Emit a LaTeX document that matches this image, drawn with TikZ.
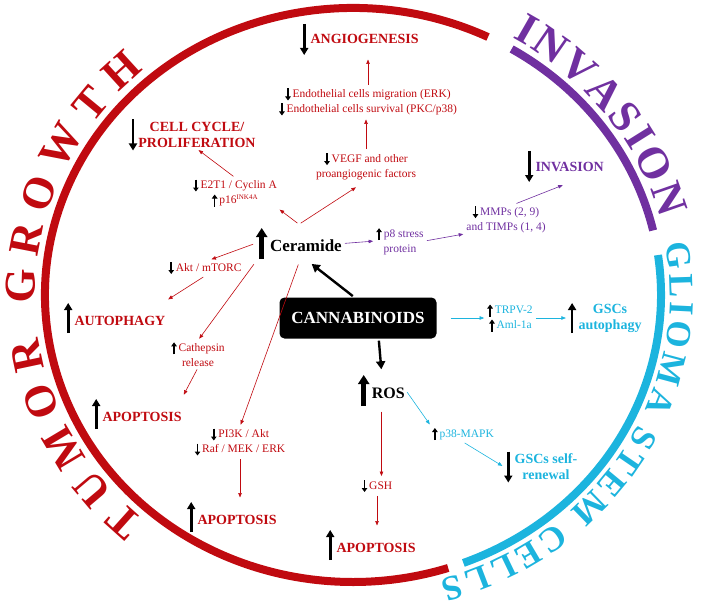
\documentclass[tikz,border=0pt]{standalone}
\usepackage{fontspec}
\setmainfont{Liberation Serif}
\usetikzlibrary{positioning}
\usetikzlibrary{arrows.meta}
\usetikzlibrary{decorations.text}
\definecolor{tred}{RGB}{192,10,16}
\definecolor{tpurple}{RGB}{112,48,160}
\definecolor{tcyan}{RGB}{28,180,222}
\tikzset{
  ind/.style={black,line width=1.5pt,-{Triangle[length=4pt,width=5.5pt]}},
  bigind/.style={black,line width=2.6pt,-{Triangle[length=7pt,width=8pt]}},
  hugeind/.style={black,line width=5pt,-{Triangle[length=9pt,width=11pt]}}
}
\newcommand{\inddn}{\tikz[baseline=0pt]\draw[ind] (0,9pt)--(0,-3pt);}
\newcommand{\indup}{\tikz[baseline=0pt]\draw[ind] (0,-3pt)--(0,9pt);}
\newcommand{\bigdn}{\tikz[baseline=0pt]\draw[bigind] (0,20pt)--(0,-11pt);}
\newcommand{\bigup}{\tikz[baseline=0pt]\draw[bigind] (0,-8pt)--(0,22pt);}
\newcommand{\hugeup}{\tikz[baseline=0pt]\draw[hugeind] (0,-8pt)--(0,23pt);}
\newcommand{\arcfont}{\fontsize{44}{44}\selectfont\bfseries}
\newcommand{\arcfontsm}{\fontsize{35}{35}\selectfont\bfseries}
\begin{document}
\begin{tikzpicture}
  [x=1pt,y=1pt,
   lab/.style={font=\fontsize{11.5}{15}\selectfont,inner sep=1pt,align=center},
   head/.style={font=\fontsize{14}{16}\selectfont\bfseries,inner sep=1pt,align=center},
   rarr/.style={tred,line width=0.6pt,-{Triangle[length=4.5pt,width=3.5pt]},shorten <=2pt,shorten >=2pt},
   parr/.style={rarr,tpurple},
   carr/.style={rarr,tcyan},
   karr/.style={black,line width=2.4pt,-{Triangle[length=8pt,width=9pt]},shorten <=2pt,shorten >=2pt},
   ring/.style={line width=8pt}]
  \useasboundingbox (0,0) rectangle (708,606);
  \coordinate (C) at (353,311);

  % rings
  \draw[ring,tred] (C) ++(64:308 and 287) arc[start angle=64,end angle=288,x radius=308,y radius=287];
  \draw[ring,tpurple] (C) ++(59:308 and 287) arc[start angle=59,end angle=13,x radius=308,y radius=287];
  \draw[ring,tcyan] (C) ++(8:308 and 287) arc[start angle=8,end angle=-69,x radius=308,y radius=287];
  \path[decorate,decoration={text along path,text={|\arcfont|TUMOR GROWTH},text color=tred,text align=fit to path}]
    (C) ++(229:318 and 298) arc[start angle=229,end angle=131,x radius=318,y radius=298];
  \path[decorate,decoration={text along path,text={|\arcfont|INVASION},text color=tpurple,text align=fit to path}]
    (C) ++(60:318 and 297) arc[start angle=60,end angle=15,x radius=318,y radius=297];
  \path[decorate,decoration={text along path,text={|\arcfontsm|GLIOMA STEM CELLS},text color=tcyan,text align=fit to path}]
    (C) ++(10:317 and 296) arc[start angle=10,end angle=-74,x radius=317,y radius=296];

  % centre
  \node (cannab) [fill=black,rounded corners=5pt,minimum width=157pt,minimum height=41pt,
    text=white,font=\fontsize{17}{17}\selectfont\bfseries] at (358,288) {CANNABINOIDS};
  \node (cer) [anchor=base west,inner sep=1pt,font=\fontsize{17}{17}\selectfont\bfseries] at (255,355) {\hugeup\,Ceramide};
  \node (ros) [anchor=base west,inner sep=1pt,font=\fontsize{16}{16}\selectfont\bfseries] at (357,208) {\hugeup\,ROS};

  % tumor growth
  \node (angio) [head,text=tred,anchor=base west] at (299,562) {\bigdn\,ANGIOGENESIS};
  \node (endo) [lab,text=tred] at (368,504) {\inddn\,Endothelial cells migration (ERK)\\\inddn\,Endothelial cells survival (PKC/p38)};
  \node (vegf) [lab,text=tred] at (366,440) {\inddn\,VEGF and other\\proangiogenic factors};
  \node (cc) [head,text=tred] at (197,471) {CELL CYCLE/\\PROLIFERATION};
  \node (ccind) [left=0pt of cc,inner sep=0pt] {\bigdn};
  \node (e2t1) [lab,text=tred] at (235,413) {\inddn\,E2T1 / Cyclin A\\\indup\,p16\textsuperscript{\fontsize{7}{7}\selectfont INK4A}};
  \node (akt) [lab,text=tred] at (205,338) {\inddn\,Akt / mTORC};
  \node (autoph) [head,text=tred,anchor=base west] at (63,281) {\bigup\,AUTOPHAGY};
  \node (cath) [lab,text=tred] at (198,252) {\indup\,Cathepsin\\release};
  \node (apop1) [head,text=tred,anchor=base west] at (91,185) {\bigup\,APOPTOSIS};
  \node (pi3k) [lab,text=tred] at (240,164) {\inddn\,PI3K / Akt\\\inddn\,Raf / MEK / ERK};
  \node (apop2) [head,text=tred,anchor=base west] at (186,82) {\bigup\,APOPTOSIS};
  \node (gsh) [lab,text=tred] at (377,120) {\inddn\,GSH};
  \node (apop3) [head,text=tred,anchor=base west] at (325,54) {\bigup\,APOPTOSIS};

  % invasion
  \node (p8) [lab,text=tpurple] at (400,365) {\indup\,p8 stress\\protein};
  \node (mmp) [lab,text=tpurple] at (506,387) {\inddn\,MMPs (2, 9)\\and TIMPs (1, 4)};
  \node (inv) [head,text=tpurple,anchor=base west] at (524,435) {\bigdn\,INVASION};

  % glioma stem cells
  \node (trpv) [lab,text=tcyan,align=left] at (510,288) {\indup\,TRPV-2\\\,\indup\,Aml-1a};
  \node (gscsa) [head,text=tcyan] at (610,288) {GSCs\\autophagy};
  \node (gscsaind) [left=1pt of gscsa,inner sep=0pt] {\bigup};
  \node (p38) [lab,text=tcyan] at (463,172) {\indup\,p38-MAPK};
  \node (gscsr) [head,text=tcyan] at (546,139) {GSCs self-\\renewal};
  \node (gscsrind) [left=1pt of gscsr,inner sep=0pt] {\bigdn};

  % connectors
  \draw[karr] (cannab.100) -- (cer.-60);
  \draw[karr] (cannab.-45) -- (ros.north);
  \draw[rarr] (endo.north) -- (endo.north |- angio.south);
  \draw[rarr] (vegf.north) -- (vegf.north |- endo.south);
  \draw[rarr] (e2t1.north) -- (cc.south);
  \draw[rarr] (cer.north) -- (e2t1.south east);
  \draw[rarr,shorten >=12pt] (cer.north) -- (vegf.south);
  \draw[rarr] (cer.west) -- (akt.60);
  \draw[rarr] (akt.south) -- (autoph.north east);
  \draw[rarr] (cer.south west) -- (cath.north);
  \draw[rarr] (cath.south) -- (apop1.north east);
  \draw[rarr] (cer.south) -- (pi3k.north);
  \draw[rarr] (pi3k.south) -- (pi3k.south |- apop2.north);
  \draw[rarr] (ros.south) -- (ros.south |- gsh.north);
  \draw[rarr] (gsh.south) -- (gsh.south |- apop3.north);
  \draw[parr] (cer.east) -- (p8.west);
  \draw[parr] (p8.east) -- (mmp.south west);
  \draw[parr] (mmp.60) -- (inv.south);
  \draw[carr,shorten <=14pt] (cannab.east) -- (trpv.west);
  \draw[carr] (trpv.east) -- (gscsaind.west);
  \draw[carr] (ros.east) -- (p38.north west);
  \draw[carr] (p38.south) -- (gscsrind.west);
\end{tikzpicture}
\end{document}
